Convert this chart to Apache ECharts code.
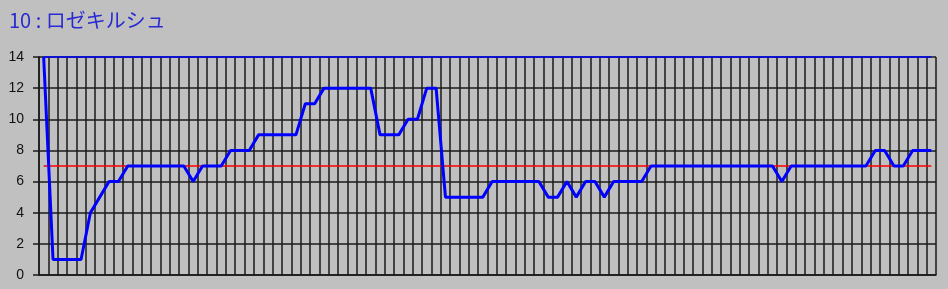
<!DOCTYPE html>
<html>
<head>
<meta charset="utf-8">
<style>
  html, body { margin: 0; padding: 0; background: #c0c0c0; }
  #chart { width: 948px; height: 289px; }
</style>
<script src="https://cdn.jsdelivr.net/npm/echarts@6/dist/echarts.min.js"></script>
</head>
<body>
<div id="chart"></div>
<script>
const titleText = "10 : ロゼキルシュ";
const categories = [
  "1","2","3","4","5","6","7","8","9","10","11","12","13","14","15","16",
  "17","18","19","20","21","22","23","24","25","26","27","28","29","30","31","32",
  "33","34","35","36","37","38","39","40","41","42","43","44","45","46","47","48",
  "49","50","51","52","53","54","55","56","57","58","59","60","61","62","63","64",
  "65","66","67","68","69","70","71","72","73","74","75","76","77","78","79","80",
  "81","82","83","84","85","86","87","88","89","90","91","92","93","94","95","96"
];
const values = [
  14, 1, 1, 1, 1, 4, 5, 6, 6, 7, 7, 7, 7, 7, 7, 7,
  6, 7, 7, 7, 8, 8, 8, 9, 9, 9, 9, 9, 11, 11, 12, 12,
  12, 12, 12, 12, 9, 9, 9, 10, 10, 12, 12, 5, 5, 5, 5, 5,
  6, 6, 6, 6, 6, 6, 5, 5, 6, 5, 6, 6, 5, 6, 6, 6,
  6, 7, 7, 7, 7, 7, 7, 7, 7, 7, 7, 7, 7, 7, 7, 6,
  7, 7, 7, 7, 7, 7, 7, 7, 7, 8, 8, 7, 7, 8, 8, 8
];
const referenceValue = 7;
const maxValue = 14;
const yTicks = [0, 2, 4, 6, 8, 10, 12, 14];

const chart = echarts.init(document.getElementById('chart'), null, { renderer: 'canvas' });
const last = categories.length - 1;
const gridColor = '#1a1a1a';
chart.setOption({
  animation: false,
  backgroundColor: '#c0c0c0',
  title: {
    text: titleText,
    left: 4,
    top: 5,
    textStyle: {
      fontFamily: '"Noto Sans CJK JP", "Noto Sans", sans-serif',
      fontSize: 20,
      fontWeight: 'normal',
      color: '#2a2ad2'
    }
  },
  grid: { left: 39, right: 12, top: 57, bottom: 14, containLabel: false },
  xAxis: {
    type: 'category',
    data: categories,
    boundaryGap: true,
    axisLine: { show: true, lineStyle: { color: gridColor, width: 1.5 } },
    axisTick: { show: false },
    axisLabel: { show: false },
    splitLine: { show: true, interval: 0, lineStyle: { color: gridColor, width: 1.5 } }
  },
  yAxis: {
    type: 'value',
    min: yTicks[0],
    max: yTicks[yTicks.length - 1],
    interval: 2,
    axisLine: { show: true, lineStyle: { color: gridColor, width: 1.5 } },
    axisTick: { show: true, length: 6, lineStyle: { color: gridColor, width: 1.5 } },
    axisLabel: {
      margin: 15,
      fontFamily: '"Liberation Sans", Arial, sans-serif',
      fontSize: 14,
      color: '#111'
    },
    splitLine: { show: true, lineStyle: { color: gridColor, width: 1.5 } }
  },
  series: [
    {
      type: 'line',
      data: values,
      showSymbol: false,
      lineStyle: { color: '#0000ff', width: 3 },
      itemStyle: { color: '#0000ff' },
      z: 5,
      markLine: {
        silent: true,
        symbol: 'none',
        label: { show: false },
        animation: false,
        data: [
          [ { coord: [0, referenceValue], lineStyle: { color: '#ff0000', width: 1.5, type: 'solid' } },
            { coord: [last, referenceValue] } ],
          [ { coord: [0, maxValue], lineStyle: { color: '#0000ff', width: 1.5, type: 'solid' } },
            { coord: [last, maxValue] } ]
        ]
      }
    }
  ]
});
</script>
</body>
</html>
